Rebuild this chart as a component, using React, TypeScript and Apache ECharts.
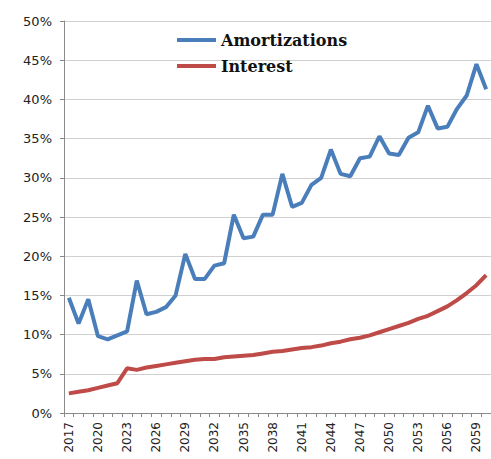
import React, { useEffect, useRef } from "react";
import * as echarts from "echarts";

const years: string[] = [];
for (let y = 2017; y <= 2060; y++) years.push(String(y));

const amortizations = [
  14.7, 11.4, 14.5, 9.8, 9.4, 9.9, 10.4, 16.9, 12.6, 12.9, 13.5, 15.0, 20.3, 17.1, 17.1,
  18.8, 19.1, 25.3, 22.3, 22.5, 25.3, 25.3, 30.5, 26.3, 26.8, 29.1, 30.0, 33.6, 30.5,
  30.2, 32.5, 32.7, 35.3, 33.1, 32.9, 35.1, 35.8, 39.2, 36.3, 36.5, 38.8, 40.5, 44.5, 41.3,
];

const interest = [
  2.5, 2.7, 2.9, 3.2, 3.5, 3.8, 5.7, 5.5, 5.8, 6.0, 6.2, 6.4, 6.6, 6.8, 6.9, 6.9, 7.1,
  7.2, 7.3, 7.4, 7.6, 7.8, 7.9, 8.1, 8.3, 8.4, 8.6, 8.9, 9.1, 9.4, 9.6, 9.9, 10.3, 10.7,
  11.1, 11.5, 12.0, 12.4, 13.0, 13.6, 14.4, 15.3, 16.3, 17.6,
];

const seriesNames = ["Amortizations", "Interest"];

export default function App() {
  const ref = useRef<HTMLDivElement>(null);
  useEffect(() => {
    if (!ref.current) return;
    const chart = echarts.init(ref.current, undefined, { renderer: "svg" });
    chart.setOption({
      animation: false,
      backgroundColor: "#ffffff",
      grid: { left: 64, right: 0, top: 21, bottom: 46, containLabel: false, outerBoundsMode: "none" },
      legend: {
        orient: "vertical",
        left: 172,
        top: 27,
        itemGap: 10,
        itemWidth: 39,
        itemHeight: 4,
        icon: "rect",
        textStyle: {
          fontFamily: "DejaVu Serif",
          fontWeight: "bold",
          fontSize: 16,
          color: "#111",
          padding: [0, 0, 0, 0],
        },
        data: seriesNames,
      },
      xAxis: {
        type: "category",
        data: years,
        boundaryGap: true,
        axisLine: { lineStyle: { color: "#8a8a8a", width: 1 } },
        axisTick: { show: true, interval: 0, length: 4, lineStyle: { color: "#8a8a8a" } },
        axisLabel: {
          interval: 2,
          rotate: 90,
          margin: 9,
          fontFamily: "DejaVu Sans",
          fontSize: 12,
          color: "#222",
        },
        splitLine: { show: false },
      },
      yAxis: {
        type: "value",
        min: 0,
        max: 50,
        interval: 5,
        axisLine: { show: true, lineStyle: { color: "#8a8a8a", width: 1 } },
        axisTick: { show: true, length: 4, lineStyle: { color: "#8a8a8a" } },
        axisLabel: {
          formatter: "{value}%",
          margin: 12,
          fontFamily: "DejaVu Sans",
          fontSize: 13,
          color: "#222",
        },
        splitLine: { show: true, lineStyle: { color: "#d0d0d0", width: 1 } },
      },
      series: [
        {
          name: seriesNames[0],
          type: "line",
          data: amortizations,
          showSymbol: false,
          symbol: "none",
          lineStyle: { color: "#4a7ebb", width: 4 },
          itemStyle: { color: "#4a7ebb" },
        },
        {
          name: seriesNames[1],
          type: "line",
          data: interest,
          showSymbol: false,
          symbol: "none",
          lineStyle: { color: "#be4b48", width: 4 },
          itemStyle: { color: "#be4b48" },
        },
      ],
    });
    return () => chart.dispose();
  }, []);
  return (
    <div
      ref={ref}
      style={{ position: "fixed", left: 0, top: 0, width: 491, height: 459 }}
    />
  );
}
